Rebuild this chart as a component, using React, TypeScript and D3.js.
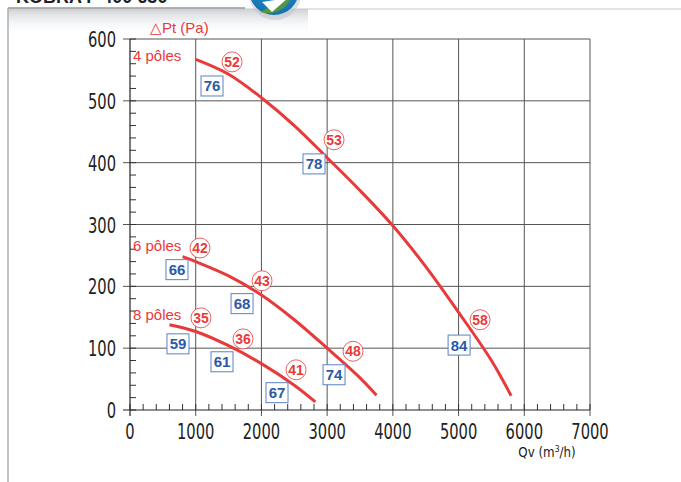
import React from 'react';
import * as d3 from 'd3';

// curve points [Qv, Pt]
const pole4 = [[1000, 567], [1500, 543], [2000, 505], [2500, 460], [3000, 408], [3500, 355], [4000, 298], [4500, 232], [5000, 158], [5500, 80], [5800, 23]];
const pole6 = [[800, 248], [1000, 240], [1500, 217], [2000, 186], [2500, 146], [3000, 100], [3500, 52], [3750, 24]];
const pole8 = [[600, 138], [1000, 127], [1500, 104], [2000, 75], [2500, 40], [2820, 13]];

const curveNames = ['4 pôles', '6 pôles', '8 pôles'];
const curveNameY = [573, 265, 154];

// sound levels (circled) and efficiencies (boxed)
const circled = [[1553, 563, '52'], [3105, 437, '53'], [5327, 146, '58'], [1065, 262, '42'], [2009, 209, '43'], [3394, 95, '48'], [1080, 149, '35'], [1720, 115, '36'], [2527, 65, '41']];
const boxed = [[1248, 524, '76'], [2800, 398, '78'], [5008, 105, '84'], [715, 227, '66'], [1705, 172, '68'], [3105, 57, '74'], [730, 107, '59'], [1400, 78, '61'], [2237, 28, '67']];

const xTicks = [0, 1000, 2000, 3000, 4000, 5000, 6000, 7000];
const yTicks = [0, 100, 200, 300, 400, 500, 600];

const RED = '#e83a3a';
const BLUE = '#2b5aa6';
const NUM_FONT = "'DejaVu Sans', sans-serif";
const LABEL_FONT = "'Liberation Sans', Arial, sans-serif";

export default function App() {
  const x = d3.scaleLinear().domain([0, 7000]).range([130, 590]);
  const y = d3.scaleLinear().domain([0, 600]).range([410, 39]);
  const line = d3.line<number[]>().x(d => x(d[0])).y(d => y(d[1])).curve(d3.curveCatmullRom);

  const xMinor = d3.range(0, 7001, 200);
  const yMinor = d3.range(0, 601, 20);

  return (
    <svg width={681} height={482} style={{ position: 'absolute', left: 0, top: 0, background: '#fff' }}>
      <defs>
        <linearGradient id="shade" x1="0" y1="0" x2="0" y2="1">
          <stop offset="0" stopColor="#c8ccd0" stopOpacity={0.9} />
          <stop offset="1" stopColor="#ffffff" stopOpacity={0} />
        </linearGradient>
        <radialGradient id="logo" cx="0.5" cy="0.3" r="0.7">
          <stop offset="0" stopColor="#2aa0d8" />
          <stop offset="1" stopColor="#1670b0" />
        </radialGradient>
      </defs>

      {/* header frame */}
      <rect x={8} y={9} width={300} height={26} fill="url(#shade)" />
      <line x1={8} x2={681} y1={9} y2={9} stroke="#c9c9c9" strokeWidth={1} />
      <rect x={0} y={0} width={245} height={8} fill="#fff" />
      <line x1={8} x2={245} y1={8} y2={8} stroke="#999" strokeWidth={1.5} />
      <line x1={8} x2={8} y1={8} y2={482} stroke="#aab0b8" strokeWidth={1.5} />
      <text x={16} y={3} fontFamily={LABEL_FONT} fontWeight="bold" fontSize={18} fill="#222">KOBRA F 400 630</text>
      <circle cx={275} cy={-6} r={26} fill="#bcc2c8" opacity={0.5} />
      <circle cx={274} cy={-10} r={25} fill="url(#logo)" />
      <path d="M292,-5 A25,25 0 0 1 260,12 Z" fill="#5a9a3a" opacity={0.9} />
      <path d="M262,2 L272,12 L288,-2 Z" fill="#fff" />

      {/* grid */}
      {xTicks.slice(1).map(t => (
        <line key={'gx' + t} x1={x(t)} x2={x(t)} y1={y(600)} y2={y(0) + 6} stroke="#555" strokeWidth={1} />
      ))}
      {yTicks.slice(1).map(t => (
        <line key={'gy' + t} x1={x(0) - 7} x2={x(7000)} y1={y(t)} y2={y(t)} stroke="#555" strokeWidth={1} />
      ))}

      {/* minor ticks */}
      {xMinor.map(t => (
        <line key={'mx' + t} x1={x(t)} x2={x(t)} y1={y(0)} y2={y(0) - 6} stroke="#333" strokeWidth={1} />
      ))}
      {yMinor.map(t => (
        <line key={'my' + t} x1={x(0)} x2={x(0) + 6} y1={y(t)} y2={y(t)} stroke="#333" strokeWidth={1} />
      ))}

      {/* axes */}
      <line x1={x(0)} x2={x(0)} y1={y(600)} y2={y(0) + 6} stroke="#222" strokeWidth={1.2} />
      <line x1={x(0) - 7} x2={x(7000)} y1={y(0)} y2={y(0)} stroke="#222" strokeWidth={1.2} />

      {/* tick labels, condensed */}
      {yTicks.map(t => (
        <text key={'ly' + t} transform={`translate(116,${y(t) + 8}) scale(0.7,1)`} textAnchor="end" fontFamily={NUM_FONT} fontSize={21} fill="#222">{t}</text>
      ))}
      {xTicks.map(t => (
        <text key={'lx' + t} transform={`translate(${x(t)},${y(0) + 29}) scale(0.7,1)`} textAnchor="middle" fontFamily={NUM_FONT} fontSize={21} fill="#222">{t}</text>
      ))}

      <text x={150} y={33} fontFamily={LABEL_FONT} fontSize={15} fill={RED}>△Pt (Pa)</text>
      <text transform="translate(547,457) scale(0.85,1)" textAnchor="middle" fontFamily={NUM_FONT} fontSize={14} fill="#222">
        Qv (m<tspan fontSize={9} dy={-5}>3</tspan><tspan dy={5}>/h)</tspan>
      </text>

      {/* curves */}
      {[pole4, pole6, pole8].map((d, i) => (
        <path key={'c' + i} d={line(d) || ''} fill="none" stroke={RED} strokeWidth={3} />
      ))}

      {curveNames.map((n, i) => (
        <text key={n} x={133} y={y(curveNameY[i]) + 5} fontFamily={LABEL_FONT} fontSize={15} fill={RED}>{n}</text>
      ))}

      {circled.map(([vx, vy, s]) => (
        <g key={'o' + s} transform={`translate(${x(vx as number)},${y(vy as number)})`}>
          <circle r={10} fill="#fff" stroke={RED} strokeWidth={0.8} />
          <text y={5} textAnchor="middle" fontFamily={LABEL_FONT} fontWeight="bold" fontSize={14} fill={RED}>{s}</text>
        </g>
      ))}

      {boxed.map(([vx, vy, s]) => (
        <g key={'b' + s} transform={`translate(${x(vx as number)},${y(vy as number)})`}>
          <rect x={-11} y={-10} width={22} height={20} fill="#fff" stroke="#5a82c4" strokeWidth={1} />
          <text y={5.5} textAnchor="middle" fontFamily={LABEL_FONT} fontWeight="bold" fontSize={15} fill={BLUE}>{s}</text>
        </g>
      ))}
    </svg>
  );
}
